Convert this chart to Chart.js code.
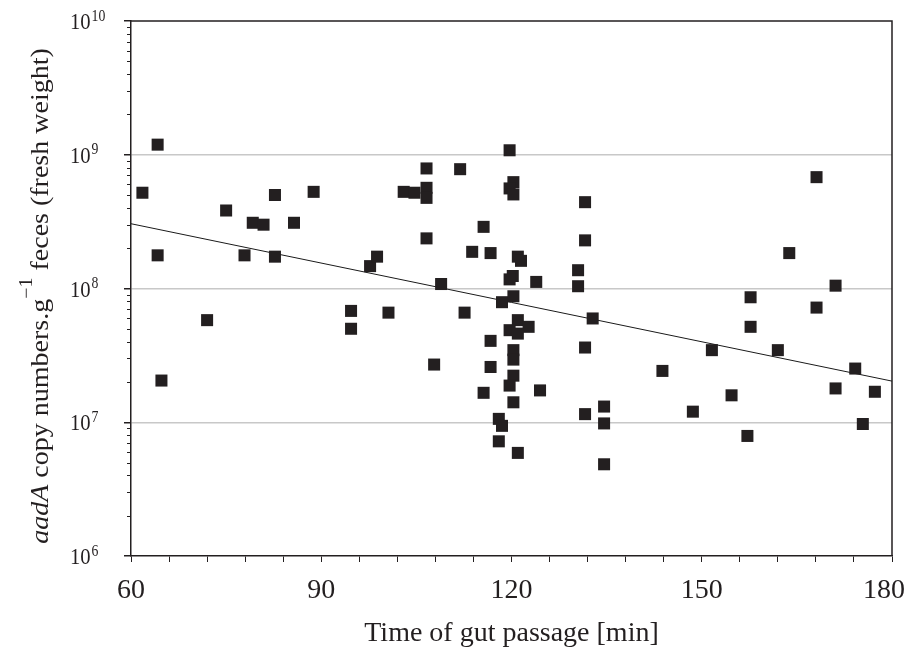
<!DOCTYPE html>
<html>
<head>
<meta charset="utf-8">
<script src="https://cdn.jsdelivr.net/npm/chart.js@4.4.1/dist/chart.umd.min.js"></script>
<style>
  html, body { margin: 0; padding: 0; background: #fff; }
  #wrap { width: 909px; height: 654px; position: relative; }
</style>
</head>
<body>
<div id="wrap"><canvas id="graficoPassagem"></canvas></div>
<script>
// time of gut passage [min] for each sample
const passageMin = [
  61.8, 64.2, 64.2, 64.8, 72.0, 75.0, 77.9, 79.2, 80.9, 82.7,
  82.7, 85.7, 88.8, 94.7, 94.7, 97.7, 98.8, 100.6, 103.0, 104.7,
  106.6, 106.6, 106.6, 106.6, 107.8, 108.9, 111.9, 112.6, 113.8, 115.6,
  115.6, 116.7, 116.7, 116.7, 118.0, 118.5, 118.0, 118.5, 119.7, 120.3,
  119.7, 120.3, 121.0, 121.5, 120.2, 119.7, 123.9, 120.3, 121.0, 119.7,
  122.7, 121.0, 120.3, 120.3, 120.3, 119.7, 124.5, 120.3, 121.0, 130.5,
  130.5, 131.6, 131.6, 131.6, 131.6, 132.8, 134.6, 134.6, 134.6, 143.8,
  148.6, 151.6, 154.7, 157.2, 157.7, 157.7, 162.0, 163.8, 168.1, 168.1,
  171.1, 171.1, 174.2, 175.4, 177.3
];
// aadA copy numbers per g feces (fresh weight)
const aadaCopies = [
  5.2e8, 1.19e9, 1.77e8, 2.05e7, 5.8e7, 3.83e8, 1.77e8, 3.1e8, 3.0e8, 5.0e8,
  1.73e8, 3.1e8, 5.28e8, 6.8e7, 5.0e7, 1.47e8, 1.73e8, 6.6e7, 5.28e8, 5.2e8,
  7.9e8, 5.66e8, 4.76e8, 2.37e8, 2.7e7, 1.08e8, 7.8e8, 6.6e7, 1.88e8, 2.89e8,
  1.66e7, 1.84e8, 4.06e7, 2.59e7, 1.06e7, 9.4e6, 7.2e6, 7.9e7, 1.08e9, 6.24e8,
  5.6e8, 5.05e8, 1.73e8, 1.61e8, 1.24e8, 1.17e8, 1.12e8, 8.75e7, 5.8e7, 4.88e7,
  5.17e7, 4.6e7, 3.46e7, 2.94e7, 2.23e7, 1.88e7, 1.73e7, 1.41e7, 5.9e6, 1.37e8,
  1.04e8, 4.42e8, 2.29e8, 3.62e7, 1.15e7, 5.97e7, 1.31e7, 9.8e6, 4.85e6, 2.42e7,
  1.2e7, 3.46e7, 1.59e7, 7.9e6, 8.6e7, 5.17e7, 3.46e7, 1.84e8, 6.8e8, 7.2e7,
  1.05e8, 1.79e7, 2.52e7, 9.7e6, 1.69e7
];
// regression line end points
const fitX = [60, 180];
const fitY = [3.05e8, 2.03e7];
// axis labels
const xLabelValues = [60, 90, 120, 150, 180];
const yDecades = [6, 7, 8, 9, 10];

const ink = '#231f20';
const serif = '"Liberation Serif", "Times New Roman", serif';

// top/right frame and minor log ticks
const frameMinorTicks = {
  id: 'frameMinorTicks',
  beforeDatasetsDraw(chart) {
    const { ctx, chartArea: a, scales: { y } } = chart;
    ctx.save();
    ctx.strokeStyle = ink;
    ctx.lineWidth = 1.5;
    ctx.beginPath();
    ctx.moveTo(a.left, a.top);
    ctx.lineTo(a.right, a.top);
    ctx.lineTo(a.right, a.bottom);
    ctx.stroke();

    ctx.lineWidth = 1;
    ctx.beginPath();
    for (let d = 6; d < 10; d++) {
      for (let k = 2; k <= 9; k++) {
        const py = Math.round(y.getPixelForValue(k * Math.pow(10, d))) + 0.5;
        ctx.moveTo(a.left - 4, py);
        ctx.lineTo(a.left, py);
      }
    }
    ctx.stroke();
    ctx.restore();
  }
};

// tick labels: 10 with raised exponent on y, plain numbers on x
const tickLabels = {
  id: 'tickLabels',
  afterDraw(chart) {
    const { ctx, scales: { x, y } } = chart;
    ctx.save();
    ctx.fillStyle = ink;
    ctx.textBaseline = 'alphabetic';
    ctx.textAlign = 'left';
    yDecades.forEach(d => {
      const py = y.getPixelForValue(Math.pow(10, d));
      ctx.save();
      ctx.translate(70, py);
      ctx.scale(0.86, 1);
      ctx.font = `24px ${serif}`;
      ctx.fillText('10', 0, 8);
      const w = ctx.measureText('10').width;
      ctx.font = `16px ${serif}`;
      ctx.fillText(String(d), w + 1, -0.5);
      ctx.restore();
    });

    ctx.font = `28px ${serif}`;
    ctx.textAlign = 'center';
    xLabelValues.forEach(v => {
      const label = String(v);
      const w = ctx.measureText(label).width;
      const px = Math.min(x.getPixelForValue(v), chart.width - 4 - w / 2);
      ctx.fillText(label, px, 598);
    });
    ctx.restore();
  }
};

// y title with italic gene name and superscript
const yTitle = {
  id: 'yTitle',
  afterDraw(chart) {
    const ctx = chart.ctx;
    const size = 28;
    const parts = [
      { t: 'aadA', f: `italic ${size}px ${serif}`, dy: 0 },
      { t: ' copy numbers.g', f: `${size}px ${serif}`, dy: 0 },
      { t: '\u22121', f: `${Math.round(size * 0.7)}px ${serif}`, dy: -size * 0.64 },
      { t: ' feces (fresh weight)', f: `${size}px ${serif}`, dy: 0 }
    ];
    ctx.save();
    let total = 0;
    parts.forEach(p => { ctx.font = p.f; p.w = ctx.measureText(p.t).width; total += p.w; });
    ctx.translate(48, 296);
    ctx.rotate(-Math.PI / 2);
    ctx.scale(1, 0.9);
    ctx.fillStyle = ink;
    ctx.textBaseline = 'alphabetic';
    let x = -total / 2;
    parts.forEach(p => {
      ctx.font = p.f;
      ctx.fillText(p.t, x, p.dy);
      x += p.w;
    });
    ctx.restore();
  }
};

new Chart(document.getElementById('graficoPassagem'), {
  type: 'scatter',
  data: {
    datasets: [
      {
        label: 'samples',
        data: passageMin.map((x, i) => ({ x: x, y: aadaCopies[i] })),
        pointStyle: 'rect',
        pointRadius: 8.5,
        pointHoverRadius: 8.5,
        backgroundColor: ink,
        borderColor: ink,
        borderWidth: 0,
        order: 0
      },
      {
        type: 'line',
        label: 'fit',
        data: fitX.map((x, i) => ({ x: x, y: fitY[i] })),
        borderColor: '#1a1a1a',
        borderWidth: 1,
        pointRadius: 0,
        fill: false,
        order: 1
      }
    ]
  },
  options: {
    responsive: true,
    maintainAspectRatio: false,
    animation: false,
    layout: { padding: { top: 21, right: 17, left: 0, bottom: 0 } },
    plugins: {
      legend: { display: false },
      tooltip: { enabled: false }
    },
    scales: {
      x: {
        type: 'linear',
        min: 60,
        max: 180,
        afterBuildTicks: s => {
          s.ticks = [];
          for (let v = 60; v <= 180; v += 6) s.ticks.push({ value: v });
        },
        ticks: { display: false, autoSkip: false },
        grid: { drawOnChartArea: false, tickLength: 6, tickColor: ink },
        border: { color: ink, width: 1.5 },
        title: {
          display: true,
          text: 'Time of gut passage [min]',
          color: ink,
          font: { family: serif, size: 28 },
          padding: { top: 0, bottom: 4 }
        },
        afterFit: s => { s.height = 98; s.paddingLeft = 0; s.paddingRight = 0; }
      },
      y: {
        type: 'logarithmic',
        min: 1e6,
        max: 1e10,
        afterBuildTicks: s => { s.ticks = yDecades.map(d => ({ value: Math.pow(10, d) })); },
        ticks: { display: false },
        grid: {
          color: c => (c.tick && c.tick.value > 1e6 && c.tick.value < 1e10) ? '#c8c8c8' : 'rgba(0,0,0,0)',
          lineWidth: 1.5,
          tickLength: 7,
          tickColor: ink
        },
        border: { color: ink, width: 1.5 },
        afterFit: s => { s.width = 131; s.paddingTop = 0; s.paddingBottom = 0; }
      }
    }
  },
  plugins: [frameMinorTicks, tickLabels, yTitle]
});
</script>
</body>
</html>
